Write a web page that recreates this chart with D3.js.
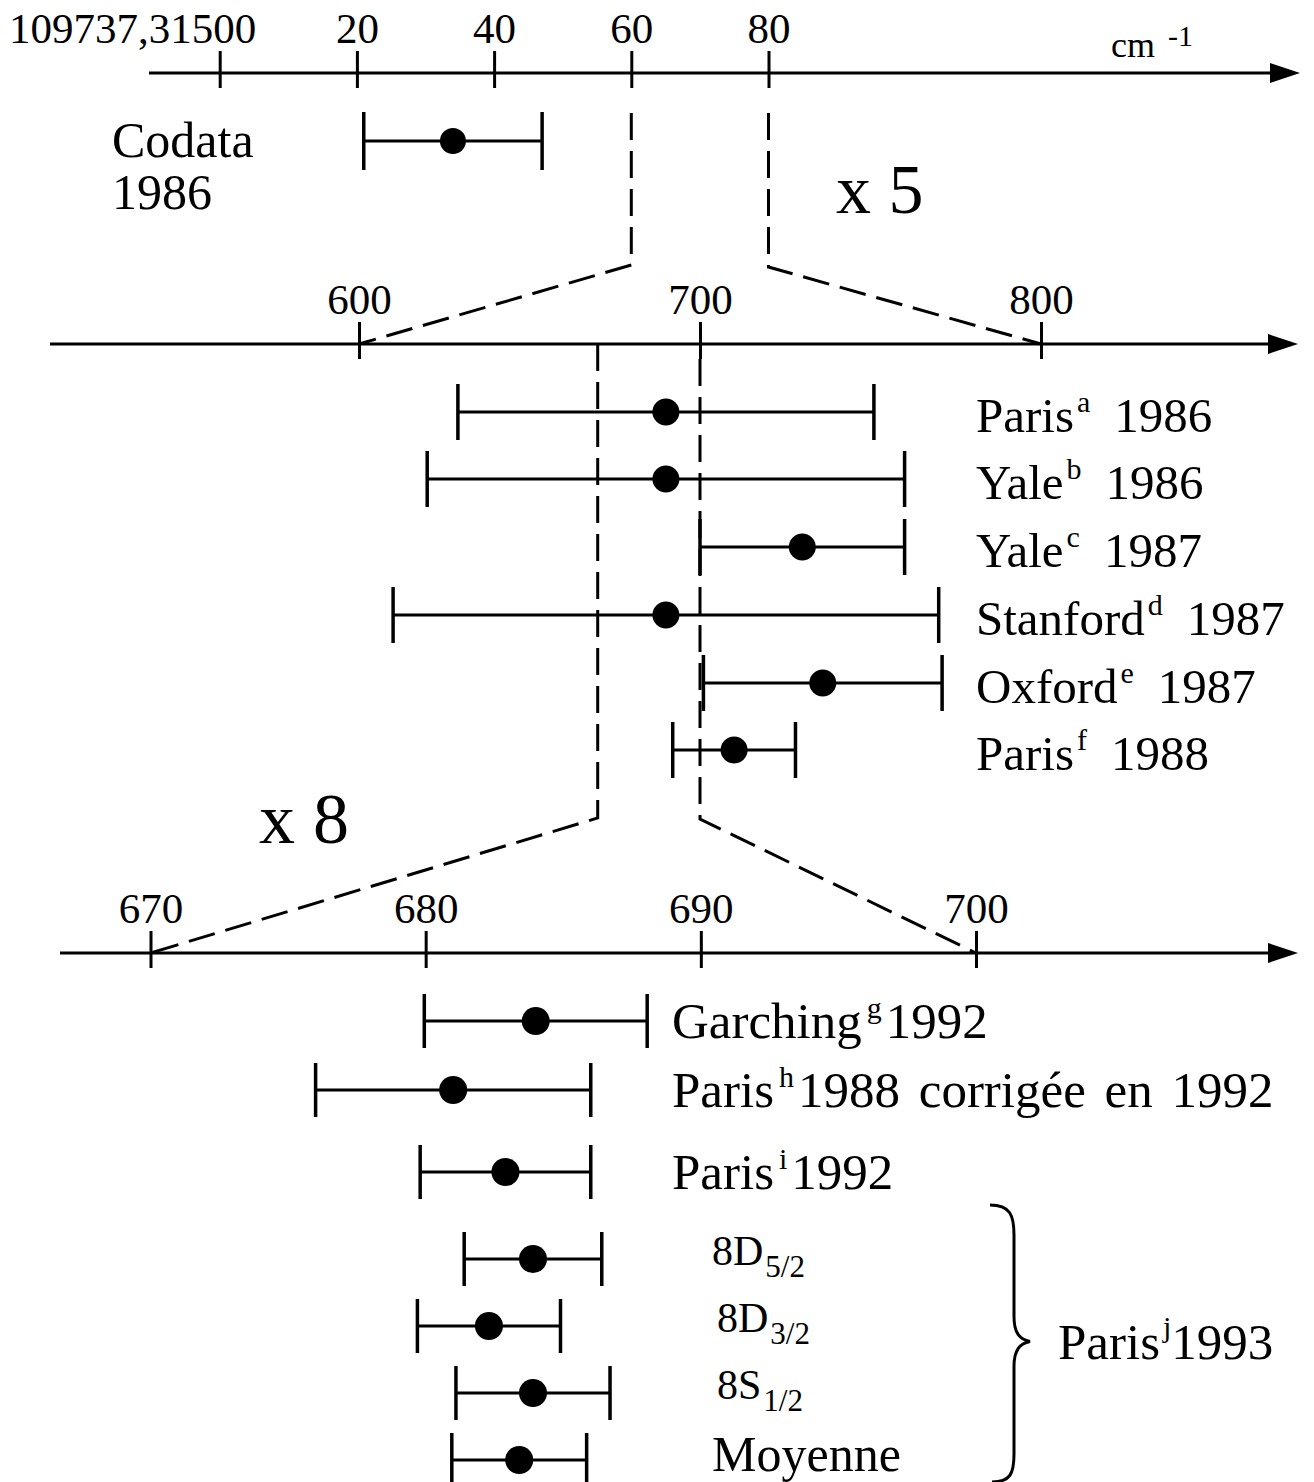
<!DOCTYPE html>
<html>
<head>
<meta charset="utf-8">
<script src="https://cdn.jsdelivr.net/npm/d3@7"></script>
<style>
  body { margin: 0; background: #fff; }
  svg text { font-family: "Liberation Serif", "Times New Roman", serif; fill: #000; }
</style>
</head>
<body>
<svg id="chart" width="1314" height="1482"></svg>
<script>
// ---- Data -------------------------------------------------------------
// Upper scale: units of 1e-5 cm^-1 above 109737,31500
const topTicks = [0, 20, 40, 60, 80];
const topTickLabels = ["109737,31500", "20", "40", "60", "80"];
const topLabelLines = ["Codata", "1986"];
const topValues = [34];
const topErrors = [13];

// Middle scale (x5): units of 1e-6 cm^-1
const midTicks = [600, 700, 800];
const midTickLabels = ["600", "700", "800"];
const midNames = ["Paris", "Yale", "Yale", "Stanford", "Oxford", "Paris"];
const midRefs = ["a", "b", "c", "d", "e", "f"];
const midYears = ["1986", "1986", "1987", "1987", "1987", "1988"];
const midValues = [690, 690, 730, 690, 736, 710];
const midErrors = [61, 70, 30, 80, 35, 18];

// Lower scale (x8): units of 1e-6 cm^-1
const botTicks = [670, 680, 690, 700];
const botTickLabels = ["670", "680", "690", "700"];
const botNames = ["Garching", "Paris", "Paris", "8D", "8D", "8S", "Moyenne"];
const botRefs = ["g", "h", "i", "", "", "", ""];
const botSubs = ["", "", "", "5/2", "3/2", "1/2", ""];
const botTails = ["1992", "1988 corrigée en 1992", "1992", "", "", "", ""];
const botValues = [684.0, 681.0, 682.9, 683.9, 682.3, 683.9, 683.4];
const botErrors = [4.05, 5.0, 3.1, 2.5, 2.6, 2.8, 2.45];

const groupLabel = ["Paris", "j", "1993"];

// ---- Layout -----------------------------------------------------------
const svg = d3.select("#chart");
const AX_W = 3;
const DASH = "27,11";

const axisTopY = 73, axisMidY = 344, axisBotY = 953;
const xTop = d3.scaleLinear().domain([0, 80]).range([219.7, 768.5]);
const xMid = d3.scaleLinear().domain([600, 800]).range([359, 1041]);
const xBot = d3.scaleLinear().domain([670, 700]).range([150.5, 976]);

const topRowY = [141];
const midRowY = [412, 479, 547, 615, 683, 750];
const botRowY = [1021, 1090, 1172, 1259, 1326, 1393, 1460];

function drawAxis(scale, y, x0, x1, ticks, labels, anchorFirstEnd) {
  const g = svg.append("g").attr("transform", `translate(0,${y})`);
  // axis line + arrow head
  g.append("line").attr("x1", x0).attr("x2", x1 - 20).attr("y1", 0).attr("y2", 0)
    .attr("stroke", "#000").attr("stroke-width", AX_W);
  g.append("path").attr("d", `M${x1},0 L${x1 - 30},-10 L${x1 - 30},10 Z`).attr("fill", "#000");
  const axis = d3.axisTop(scale).tickValues(ticks)
    .tickFormat((d, i) => labels[i]).tickSizeOuter(0).tickSizeInner(0).tickPadding(30);
  const ag = g.append("g").call(axis);
  ag.select(".domain").remove();
  ag.selectAll(".tick line").attr("y1", 15).attr("y2", -22)
    .attr("stroke", "#000").attr("stroke-width", AX_W);
  ag.selectAll(".tick text").attr("font-size", 43).attr("font-family", null).attr("fill", "#000");
  if (anchorFirstEnd) {
    ag.selectAll(".tick text").filter((d, i) => i === 0).attr("text-anchor", "end").attr("x", 36);
  }
  return g;
}

function errorBar(scale, v, e, y, cap, r) {
  const g = svg.append("g");
  g.append("line").attr("x1", scale(v - e)).attr("x2", scale(v + e)).attr("y1", y).attr("y2", y)
    .attr("stroke", "#000").attr("stroke-width", 3);
  [v - e, v + e].forEach(t => {
    g.append("line").attr("x1", scale(t)).attr("x2", scale(t)).attr("y1", y - cap).attr("y2", y + cap)
      .attr("stroke", "#000").attr("stroke-width", 3.5);
  });
  g.append("circle").attr("cx", scale(v)).attr("cy", y).attr("r", r).attr("fill", "#000");
}

function dashed(points) {
  svg.append("path").attr("d", d3.line()(points)).attr("fill", "none")
    .attr("stroke", "#000").attr("stroke-width", 3).attr("stroke-dasharray", DASH);
}

// ---- Axes -------------------------------------------------------------
drawAxis(xTop, axisTopY, 149, 1300, topTicks, topTickLabels, true);
drawAxis(xMid, axisMidY, 50, 1298, midTicks, midTickLabels, false);
drawAxis(xBot, axisBotY, 60, 1298, botTicks, botTickLabels, false);

// unit
const unit = svg.append("text").attr("x", 1111).attr("y", 57).attr("font-size", 36);
unit.append("tspan").text("cm");
unit.append("tspan").attr("x", 1168).attr("y", 46).attr("font-size", 30).text("-1");

// ---- Zoom connectors --------------------------------------------------
dashed([[xTop(60), 113], [xTop(60), 265], [xMid(600), axisMidY]]);
dashed([[xTop(80), 113], [xTop(80), 267], [xMid(800), axisMidY]]);
dashed([[xMid(670), axisMidY], [xMid(670), 818], [xBot(670), axisBotY]]);
dashed([[xMid(700), axisMidY + 15], [xMid(700), 819], [xBot(700), axisBotY]]);

svg.append("text").attr("x", 836).attr("y", 213).attr("font-size", 70).text("x 5");
svg.append("text").attr("x", 259).attr("y", 843).attr("font-size", 72).text("x 8");

// ---- Top: Codata ------------------------------------------------------
topValues.forEach((v, i) => errorBar(xTop, v, topErrors[i], topRowY[i], 29, 13));
const cod = svg.append("text").attr("font-size", 50);
topLabelLines.forEach((s, i) => cod.append("tspan").attr("x", 112).attr("y", 157 + i * 52).text(s));

// ---- Middle rows ------------------------------------------------------
midValues.forEach((v, i) => errorBar(xMid, v, midErrors[i], midRowY[i], 28, 13.5));
midNames.forEach((n, i) => {
  const t = svg.append("text").attr("x", 976).attr("y", midRowY[i] + 20).attr("font-size", 49);
  t.append("tspan").text(n);
  t.append("tspan").attr("dx", 3).attr("dy", -20).attr("font-size", 30).text(midRefs[i]);
  t.append("tspan").attr("dx", 24).attr("dy", 20).text(midYears[i]);
});

// ---- Lower rows -------------------------------------------------------
botValues.forEach((v, i) => errorBar(xBot, v, botErrors[i], botRowY[i], 27, 14));
botNames.forEach((n, i) => {
  if (botSubs[i]) {
    const x = i === 3 ? 712 : 717;
    const t = svg.append("text").attr("x", x).attr("y", botRowY[i] + 6).attr("font-size", 42);
    t.append("tspan").text(n);
    t.append("tspan").attr("dx", 2).attr("dy", 12).attr("font-size", 31).text(botSubs[i]);
  } else if (botRefs[i]) {
    const t = svg.append("text").attr("x", 672).attr("y", botRowY[i] + 17)
      .attr("font-size", 51).attr("word-spacing", 6);
    t.append("tspan").text(n);
    t.append("tspan").attr("dx", 5).attr("dy", -20).attr("font-size", 30).text(botRefs[i]);
    t.append("tspan").attr("dx", 4).attr("dy", 20).text(botTails[i]);
  } else {
    svg.append("text").attr("x", 712).attr("y", botRowY[i] + 11).attr("font-size", 50).text(n);
  }
});

// brace grouping the last four rows
const bTop = botRowY[3] - 54, bBot = 1482, bMid = (botRowY[4] + botRowY[5]) / 2 - 18;
svg.append("path")
  .attr("d", `M990,${bTop} C1010,${bTop} 1014,${bTop + 10} 1014,${bTop + 30} L1014,${bMid - 25}
              C1014,${bMid - 8} 1020,${bMid - 2} 1030,${bMid} C1020,${bMid + 2} 1014,${bMid + 8} 1014,${bMid + 25}
              L1014,${bBot - 28} C1014,${bBot - 8} 1010,${bBot} 992,${bBot}`)
  .attr("fill", "none").attr("stroke", "#000").attr("stroke-width", 3);
const gl = svg.append("text").attr("x", 1058).attr("y", bMid + 17).attr("font-size", 51);
gl.append("tspan").text(groupLabel[0]);
gl.append("tspan").attr("dx", 3).attr("dy", -22).attr("font-size", 30).text(groupLabel[1]);
gl.append("tspan").attr("dx", 0).attr("dy", 22).text(groupLabel[2]);
</script>
</body>
</html>
